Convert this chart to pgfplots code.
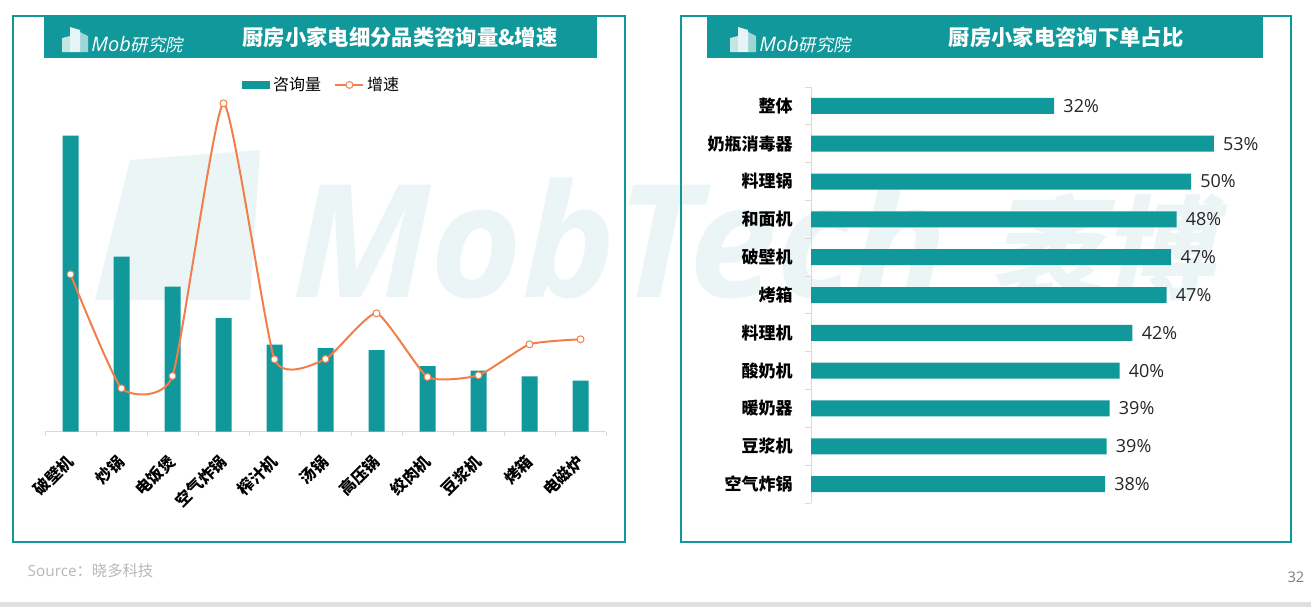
\documentclass[border=0pt]{standalone}
\usepackage{pgfplots}
\pgfplotsset{compat=1.18}
\usepackage{pgfplotstable}
\usepackage{fontspec}
\setmainfont{Open Sans}
\newfontfamily\cjk{Noto Sans CJK SC}
\newfontfamily\cjkslant{Noto Sans CJK SC}[FakeSlant=0.2]
\definecolor{teal1}{HTML}{10989A}
\definecolor{orng}{HTML}{F27E4A}
\definecolor{wm}{HTML}{EBF5F5}
\definecolor{axgray}{HTML}{D9D9D9}

\pgfplotsset{
  barleg/.style={legend image code/.code={\fill[teal1] (0pt,-3pt) rectangle (21pt,3pt);}},
  lineleg/.style={legend image code/.code={\draw[orng, line width=1.5pt] (0pt,0pt) -- (21pt,0pt); \draw[orng, fill=white, line width=0.75pt] (10.5pt,0pt) circle (2.6pt);}},
}

\pgfplotstableread{
i bar gr
0 296 157.4
1 175 43.4
2 145 55.7
3 113.7 328.4
4 87 72.4
5 83.7 72.7
6 81.7 118.4
7 65.7 54.7
8 61 56.4
9 55.4 87.4
10 51 92.4
}\leftdata

\pgfplotstableread{
i v lab
0 32 32
1 53 53
2 50 50
3 48.1 48
4 47.4 47
5 46.8 47
6 42.3 42
7 40.6 40
8 39.3 39
9 38.9 39
10 38.7 38
}\rightdata

\begin{document}
\begin{tikzpicture}[x=0.75pt,y=-0.75pt]
\fill[white] (0,0) rectangle (1311,607);
% watermark
\fill[wm] (95,300) -- (130,160) -- (260,150) -- (250,300) -- cycle;
\node[anchor=base west, inner sep=0pt, text=wm, font=\fontsize{118}{118}\selectfont\bfseries\itshape] at (292,297) {MobTech};
\node[anchor=base west, inner sep=0pt, text=wm, font=\cjkslant\bfseries\fontsize{84}{84}\selectfont] at (990,290) {袤博};
% panels
\draw[teal1, line width=1.5pt] (13,16) rectangle (625,542);
\draw[teal1, line width=1.5pt] (681,16) rectangle (1291,542);
\fill[teal1] (44,16) rectangle (597,58);
\fill[teal1] (707,16) rectangle (1263,58);
\node[text=white, font=\cjk\bfseries\fontsize{16}{16}\selectfont] at (400,37) {厨房小家电细分品类咨询量\&增速};
\node[text=white, font=\cjk\bfseries\fontsize{16}{16}\selectfont] at (1066,37) {厨房小家电咨询下单占比};
% logos
\foreach \ox in {0,668}{
\begin{scope}[xshift=\ox*0.75pt]
\fill[white, opacity=0.75] (62,52) -- (62,38) -- (70,36) -- (70,52) -- cycle;
\fill[white, opacity=0.9] (70,52) -- (70,27) -- (80,30) -- (80,52) -- cycle;
\fill[white, opacity=0.6] (80,52) -- (80,32) -- (88,36) -- (88,52) -- cycle;
\node[anchor=base west, inner sep=0pt, text=white, font=\fontsize{15}{15}\selectfont\itshape] at (91,51) {Mob{\cjkslant\fontsize{13}{13}\selectfont 研究院}};
\end{scope}
}
% footer
\node[anchor=west, text=black!28, font=\fontsize{11.5}{11.5}\selectfont] at (23,571) {Source{\cjk ：晓多科技}};
\node[anchor=east, text=black!50, font=\fontsize{11}{11}\selectfont] at (1309,577) {32};
\fill[black!12] (0,602) rectangle (1311,607);

% left chart
\begin{axis}[
  at={(33.75pt,-323.775pt)}, anchor=south west,
  scale only axis, width=420.75pt, height=255pt,
  xmin=-0.5, xmax=10.5, ymin=0, ymax=340,
  hide y axis, axis x line*=bottom,
  x axis line style={draw=axgray, line width=0.75pt},
  xtick={0,...,10},
  xticklabels={破壁机,炒锅,电饭煲,空气炸锅,榨汁机,汤锅,高压锅,绞肉机,豆浆机,烤箱,电磁炉},
  major tick length=0pt,
  minor xtick={-0.5,0.5,...,10.5}, minor tick length=3pt, tick align=outside,
  minor tick style={draw=axgray, line width=0.75pt},
  xticklabel style={font=\cjk\bfseries\fontsize{12}{12}\selectfont, rotate=45, anchor=east, inner sep=0pt},
  xticklabel shift=20pt,
  clip=false,
  legend style={at={(0.494,1.02)}, anchor=center, draw=none, fill=none,
    font=\cjk\fontsize{12}{12}\selectfont,
    /tikz/every even column/.append style={column sep=8pt}},
  legend columns=2,
]
\addplot[ybar, bar width=12pt, fill=teal1, draw=none, barleg]
  table[x=i,y=bar]{\leftdata};
\addlegendentry{咨询量}
\addplot[smooth, tension=0.3, orng, line width=1.5pt, mark=*, mark size=2.6pt,
  mark options={fill=white, draw=orng, line width=0.75pt}, lineleg]
  table[x=i,y=gr]{\leftdata};
\addlegendentry{增速}
\end{axis}

% right chart
\begin{axis}[
  at={(608.25pt,-377.25pt)}, anchor=south west,
  scale only axis, width=342pt, height=312pt,
  xmin=0, xmax=60, ymin=-0.5, ymax=10.5, y dir=reverse,
  hide x axis, axis y line*=left,
  y axis line style={draw=axgray, line width=0.75pt},
  ytick={0,...,10},
  yticklabels={整体,奶瓶消毒器,料理锅,和面机,破壁机,烤箱,料理机,酸奶机,暖奶器,豆浆机,空气炸锅},
  major tick length=0pt,
  minor ytick={-0.5,0.5,...,10.5}, minor tick length=4.5pt, tick align=outside,
  minor tick style={draw=axgray, line width=0.75pt},
  yticklabel style={font=\cjk\bfseries\fontsize{12.75}{12.75}\selectfont, anchor=east, inner sep=0pt},
  yticklabel shift=13.5pt,
  clip=false,
]
\addplot[xbar, bar width=12pt, fill=teal1, draw=none,
  point meta=explicit symbolic,
  nodes near coords={\pgfplotspointmeta\%},
  every node near coord/.append style={anchor=west, inner sep=0pt, xshift=6.75pt,
    font=\fontsize{13.5}{13.5}\selectfont, text=black!85}]
  table[x=v, y=i, meta=lab]{\rightdata};
\end{axis}
\end{tikzpicture}
\end{document}
